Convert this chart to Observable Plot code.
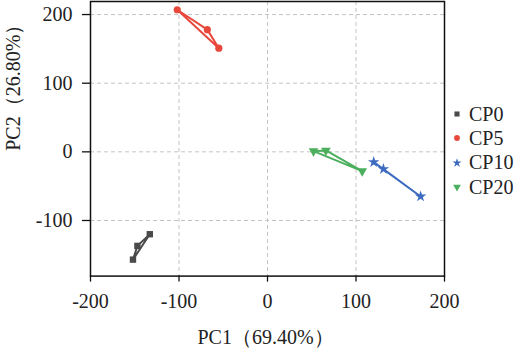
<!DOCTYPE html>
<html>
<head>
<meta charset="utf-8">
<script src="https://cdn.jsdelivr.net/npm/d3@7"></script>
<script src="https://cdn.jsdelivr.net/npm/@observablehq/plot@0.6"></script>
<style>
  body { margin: 0; background: #fff; }
  #wrap { position: relative; width: 519px; height: 352px; }
  #legend { position: absolute; left: 449px; top: 102px; font-family: "Liberation Serif", serif; font-size: 20px; color: #222; }
  .row { display: flex; align-items: center; height: 24.3px; }
  .row svg { width: 16px; height: 16px; margin-right: 4px; }
</style>
</head>
<body>
<div id="wrap"><div id="legend"></div></div>
<script>
const groups = ["CP0", "CP5", "CP10", "CP20"];
const cp0PC1 = [-133, -147, -152];
const cp0PC2 = [-120, -137, -157];
const cp5PC1 = [-102, -68, -55];
const cp5PC2 = [207, 178, 151];
const cp10PC1 = [120, 131, 173];
const cp10PC2 = [-15, -25, -65];
const cp20PC1 = [52, 66, 107];
const cp20PC2 = [1, 2, -28];
const xTicks = [-200, -100, 0, 100, 200];
const yTicks = [-100, 0, 100, 200];
const xLabel = "PC1（69.40%）";
const yLabel = "PC2（26.80%）";

const pc1s = [cp0PC1, cp5PC1, cp10PC1, cp20PC1];
const pc2s = [cp0PC2, cp5PC2, cp10PC2, cp20PC2];
const colors = ["#4a4a4a", "#e8473b", "#3d6bbf", "#4caf5e"];

const triangleDown = {
  draw(context, size) {
    const y = -Math.sqrt(size / (Math.sqrt(3) * 3));
    context.moveTo(0, -2 * y);
    context.lineTo(Math.sqrt(3) * y, y);
    context.lineTo(-Math.sqrt(3) * y, y);
    context.closePath();
  }
};
const symbols = ["square", "circle", "star", triangleDown];
const d3Symbols = [d3.symbolSquare, d3.symbolCircle, d3.symbolStar, triangleDown];

const rows = groups.flatMap((g, i) => pc1s[i].map((x, j) => ({group: g, x, y: pc2s[i][j]})));

const seriesMarks = groups.flatMap((g, i) => {
  const d = rows.filter(r => r.group === g);
  return [
    Plot.line(d, {x: "x", y: "y", stroke: colors[i], strokeWidth: 2, curve: "linear-closed"}),
    Plot.dot(d, {x: "x", y: "y", symbol: symbols[i], r: 3.6, fill: colors[i], stroke: "none"})
  ];
});

const fmt = d => String(d);

const chart = Plot.plot({
  width: 519,
  height: 352,
  marginLeft: 90,
  marginRight: 75,
  marginTop: 1,
  marginBottom: 76.4,
  x: {domain: [-200, 200]},
  y: {domain: [-181, 219]},
  style: {fontFamily: "'Liberation Serif', serif", fontSize: "20px", color: "#222", background: "#fff"},
  marks: [
    Plot.gridX([-100, 0, 100], {stroke: "#c4c4c4", strokeOpacity: 1, strokeDasharray: "4,3"}),
    Plot.gridY(yTicks, {stroke: "#c4c4c4", strokeOpacity: 1, strokeDasharray: "4,3"}),
    Plot.frame({stroke: "#111", strokeWidth: 1.5}),
    Plot.axisX(xTicks, {tickSize: 6, tickPadding: 12, tickFormat: fmt, label: null, fontSize: 20, stroke: "#111", strokeWidth: 1.3}),
    Plot.axisY(yTicks, {tickSize: 8, tickPadding: 10, tickFormat: fmt, label: null, fontSize: 20, stroke: "#111", strokeWidth: 1.3}),
    ...seriesMarks,
    Plot.text([xLabel], {frameAnchor: "bottom", dx: -2, dy: 61.4, lineAnchor: "middle", fontSize: 20, fill: "#222"}),
    Plot.text([yLabel], {frameAnchor: "left", dx: -77, dy: 12, rotate: -90, lineAnchor: "middle", fontSize: 20, fill: "#222"})
  ]
});
document.getElementById("wrap").prepend(chart);

const legend = d3.select("#legend");
groups.forEach((g, i) => {
  const row = legend.append("div").attr("class", "row");
  const svg = row.append("svg").attr("viewBox", "-8 -8 16 16");
  svg.append("path").attr("d", d3.symbol(d3Symbols[i], 26)()).attr("fill", colors[i]);
  row.append("span").text(g);
});
</script>
</body>
</html>
